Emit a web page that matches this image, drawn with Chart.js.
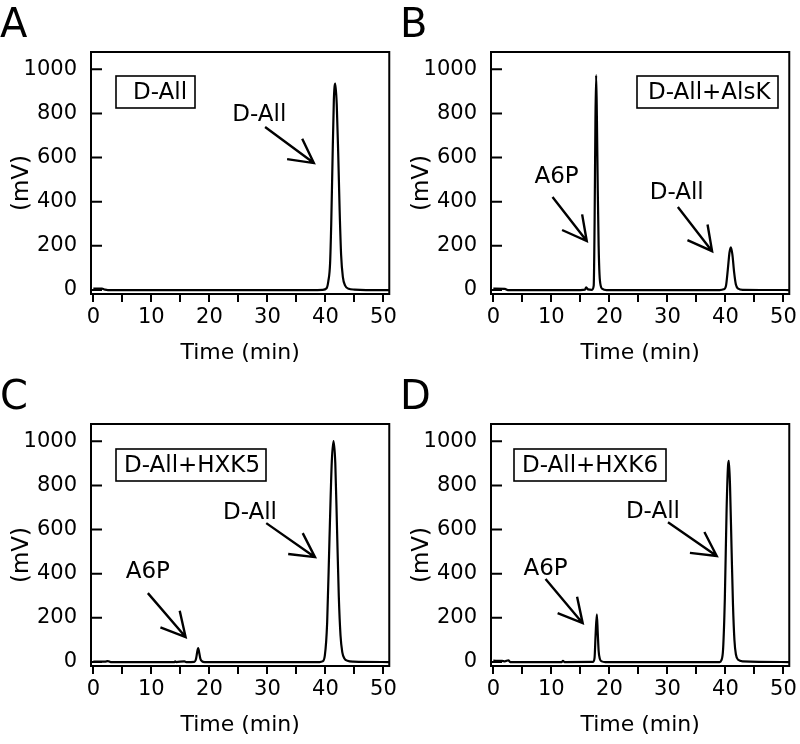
<!DOCTYPE html>
<html>
<head>
<meta charset="utf-8">
<script src="https://cdn.jsdelivr.net/npm/chart.js@4.4.1/dist/chart.umd.min.js"></script>
<style>
body { margin: 0; background: #fff; }
#wrap { position: relative; width: 800px; height: 744px; }
.panel { position: absolute; width: 400px; height: 372px; }
</style>
</head>
<body>
<div id="wrap">
  <div class="panel" style="left:0;top:0"><canvas id="chartA" width="400" height="372"></canvas></div>
  <div class="panel" style="left:400px;top:0"><canvas id="chartB" width="400" height="372"></canvas></div>
  <div class="panel" style="left:0;top:372px"><canvas id="chartC" width="400" height="372"></canvas></div>
  <div class="panel" style="left:400px;top:372px"><canvas id="chartD" width="400" height="372"></canvas></div>
</div>
<script>
// axis ticks
const xTicks = [0, 5, 10, 15, 20, 25, 30, 35, 40, 45, 50];
const yTicks = [0, 200, 400, 600, 800, 1000];

// A: D-All only
const timeA = [0, 1.5, 2, 2.5, 10, 20, 30, 38, 39.5, 40.2, 40.5, 40.8, 41.0, 41.2, 41.45, 41.7, 41.95, 42.2, 42.45, 42.7, 43.0, 43.4, 44.0, 45.0, 47.0, 51];
const mvA   = [6, 6, 2, 0, 0, 0, 0, 0, 1, 8, 40, 120, 300, 560, 860, 935, 840, 620, 360, 160, 60, 20, 6, 2, 0, 0];

// B: D-All + AlsK
const timeB = [0, 2, 2.5, 15, 15.8, 16.0, 16.3, 17.0, 17.3, 17.45, 17.6, 17.72, 17.85, 18.0, 18.15, 18.3, 18.5, 18.8, 19.5, 39, 39.7, 40.1, 40.4, 40.7, 40.94, 41.2, 41.5, 41.8, 42.2, 43, 51];
const mvB   = [6, 5, 0, 0, 2, 12, 3, 1, 20, 300, 780, 973, 780, 450, 200, 70, 20, 5, 0, 0, 3, 20, 90, 170, 193, 160, 80, 25, 6, 1, 0];

// C: D-All + HXK5
const timeC = [0, 2, 2.5, 3, 14, 14.1, 14.3, 15.7, 16, 17.4, 17.7, 17.9, 18.07, 18.25, 18.45, 18.7, 19.2, 39, 39.5, 39.9, 40.3, 40.7, 41.1, 41.4, 41.7, 42.0, 42.3, 42.6, 42.9, 43.3, 43.8, 44.8, 51];
const mvC   = [2, 2, 4, 0, 0, 3, 0, 3, 0, 1, 15, 45, 63, 42, 15, 4, 0, 0, 3, 30, 180, 560, 910, 1001, 900, 600, 300, 120, 45, 15, 6, 2, 0];

// D: D-All + HXK6
const timeD = [0, 1.5, 2, 2.6, 2.9, 11.8, 12, 12.3, 17.2, 17.45, 17.62, 17.84, 18.0, 18.15, 18.35, 18.7, 19.3, 39, 39.3, 39.6, 39.9, 40.2, 40.45, 40.6, 40.8, 41.05, 41.3, 41.55, 41.8, 42.2, 43, 51];
const mvD   = [6, 5, 3, 8, 0, 0, 5, 0, 1, 20, 120, 216, 130, 50, 15, 3, 0, 0, 8, 60, 290, 690, 890, 911, 790, 520, 260, 100, 35, 10, 3, 0];

const FONT = '"DejaVu Sans", sans-serif';

function drawArrow(ctx, x1, y1, x2, y2) {
  const a = Math.atan2(y2 - y1, x2 - x1), L = 27, w = 0.49;
  ctx.beginPath();
  ctx.moveTo(x1, y1);
  ctx.lineTo(x2, y2);
  ctx.moveTo(x2 - L * Math.cos(a - w), y2 - L * Math.sin(a - w));
  ctx.lineTo(x2, y2);
  ctx.lineTo(x2 - L * Math.cos(a + w), y2 - L * Math.sin(a + w));
  ctx.stroke();
}

function makePanel(id, letter, times, values, box, notes) {
  const deco = {
    id: 'deco',
    afterDraw(chart) {
      const { ctx, chartArea: ca } = chart;
      const x = chart.scales.x, y = chart.scales.y;
      ctx.save();
      ctx.strokeStyle = '#000';
      ctx.fillStyle = '#000';
      ctx.lineWidth = 2;
      ctx.strokeRect(ca.left, ca.top, ca.right - ca.left, ca.bottom - ca.top);
      // y ticks point inwards
      ctx.beginPath();
      yTicks.forEach(v => {
        const py = y.getPixelForValue(v);
        ctx.moveTo(ca.left, py);
        ctx.lineTo(ca.left + 11, py);
      });
      ctx.stroke();
      // y title
      ctx.save();
      ctx.translate(22, (ca.top + ca.bottom) / 2 + 10);
      ctx.rotate(-Math.PI / 2);
      ctx.font = '23px ' + FONT;
      ctx.textAlign = 'center';
      ctx.textBaseline = 'middle';
      ctx.fillText('(mV)', 0, 0);
      ctx.restore();
      // panel letter
      ctx.font = '40px ' + FONT;
      ctx.textAlign = 'left';
      ctx.textBaseline = 'alphabetic';
      ctx.fillText(letter, 0, 37);
      // sample label box
      ctx.lineWidth = 1.6;
      ctx.strokeRect(ca.left + box.dx, ca.top + box.dy, box.w, 32);
      ctx.font = '23px ' + FONT;
      ctx.textBaseline = 'middle';
      ctx.fillText(box.text, ca.left + box.dx + box.pad, ca.top + box.dy + 17);
      // peak annotations
      ctx.lineWidth = 2.4;
      ctx.textAlign = 'center';
      notes.forEach(n => {
        ctx.fillText(n.text, x.getPixelForValue(n.x), y.getPixelForValue(n.y));
        drawArrow(ctx,
          x.getPixelForValue(n.from[0]), y.getPixelForValue(n.from[1]),
          x.getPixelForValue(n.to[0]), y.getPixelForValue(n.to[1]));
      });
      ctx.restore();
    }
  };

  return new Chart(document.getElementById(id), {
    type: 'line',
    data: {
      datasets: [{
        data: times.map((t, i) => ({ x: t, y: values[i] })),
        borderColor: '#000',
        borderWidth: 2.2,
        pointRadius: 0,
        cubicInterpolationMode: 'monotone',
        fill: false
      }]
    },
    options: {
      responsive: false,
      animation: false,
      layout: { padding: { left: 0, top: 52, right: 9, bottom: 0 } },
      plugins: { legend: { display: false }, tooltip: { enabled: false } },
      scales: {
        x: {
          type: 'linear',
          min: -0.4,
          max: 51,
          afterBuildTicks: s => { s.ticks = xTicks.map(v => ({ value: v })); },
          afterFit: s => { s.height = 78; },
          ticks: {
            autoSkip: false,
            maxRotation: 0,
            color: '#000',
            font: { family: FONT, size: 21 },
            padding: 3,
            callback: v => (v % 10 === 0 ? String(v) : '')
          },
          grid: { display: true, drawOnChartArea: false, drawTicks: true, tickLength: 8, color: '#000', lineWidth: 2 },
          border: { display: false },
          title: { display: true, text: 'Time (min)', color: '#000', font: { family: FONT, size: 22 }, padding: { top: 2, bottom: 6 } }
        },
        y: {
          min: -18,
          max: 1078,
          afterBuildTicks: s => { s.ticks = yTicks.map(v => ({ value: v })); },
          afterFit: s => { s.width = 91; },
          ticks: { color: '#000', font: { family: FONT, size: 21 }, padding: 14, callback: v => String(v) },
          grid: { display: false, drawTicks: false },
          border: { display: false }
        }
      }
    },
    plugins: [deco]
  });
}

makePanel('chartA', 'A', timeA, mvA,
  { text: 'D-All', dx: 25, dy: 24, w: 79, pad: 17 },
  [{ text: 'D-All', x: 28.6, y: 792, from: [29.6, 738], to: [38.0, 575] }]);

makePanel('chartB', 'B', timeB, mvB,
  { text: 'D-All+AlsK', dx: 146, dy: 24, w: 141, pad: 11 },
  [{ text: 'A6P', x: 10.9, y: 511, from: [10.2, 421], to: [16.1, 222] },
   { text: 'D-All', x: 31.6, y: 439, from: [31.8, 376], to: [37.7, 176] }]);

makePanel('chartC', 'C', timeC, mvC,
  { text: 'D-All+HXK5', dx: 25, dy: 25, w: 150, pad: 8 },
  [{ text: 'A6P', x: 9.4, y: 407, from: [9.4, 312], to: [15.9, 113] },
   { text: 'D-All', x: 27.0, y: 674, from: [29.8, 629], to: [38.2, 475] }]);

makePanel('chartD', 'D', timeD, mvD,
  { text: 'D-All+HXK6', dx: 23, dy: 25, w: 152, pad: 8 },
  [{ text: 'A6P', x: 9.0, y: 421, from: [9.0, 376], to: [15.4, 176] },
   { text: 'D-All', x: 27.5, y: 679, from: [30.1, 633], to: [38.5, 480] }]);
</script>
</body>
</html>
